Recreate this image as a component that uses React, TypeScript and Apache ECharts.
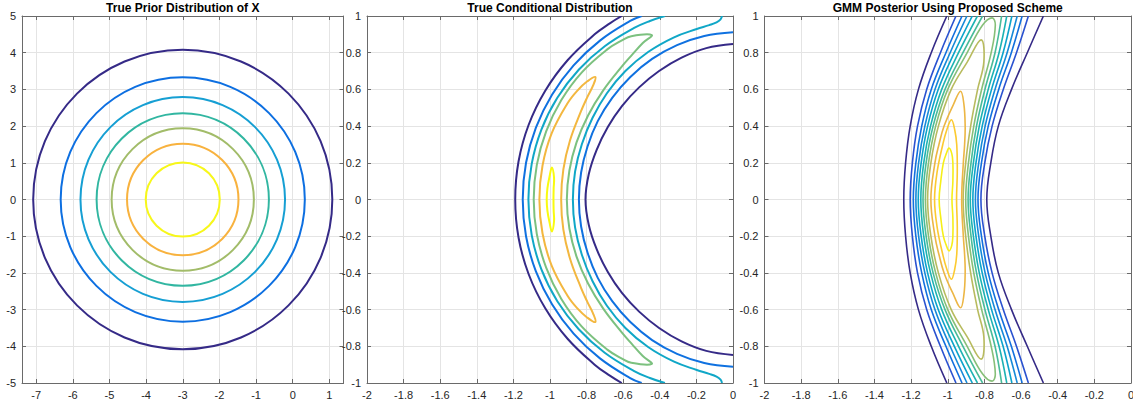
import React, { useEffect, useRef } from 'react';
import * as echarts from 'echarts';

type P = [number, number];
type Curve = { level: number; pts: P[]; closed?: boolean };

// ---------- Panel 1: True Prior Distribution of X ----------
const priorTitle = 'True Prior Distribution of X';
const priorCenter: P = [-3, 0];
const priorRadii = [4.08, 3.33, 2.79, 2.35, 1.94, 1.52, 1.01];
const priorColors = ['#352a87', '#0d6fe1', '#169fd3', '#31b6a1', '#a2bc69', '#f8b23e', '#f7f71a'];
const priorXTicks = [-7, -6, -5, -4, -3, -2, -1, 0, 1];

// ---------- Panel 2: True Conditional Distribution ----------
const condTitle = 'True Conditional Distribution';
const condColors = ['#352a87', '#0f71e0', '#10a7c7', '#7cc17f', '#f3b73f', '#f9fb0e'];
const condNavyOuter: P[] = [[-0.608, 1], [-0.673, 0.96], [-0.756, 0.9], [-0.904, 0.759], [-1.026, 0.593], [-1.117, 0.406], [-1.172, 0.207], [-1.19, 0], [-1.172, -0.207], [-1.117, -0.406], [-1.026, -0.593], [-0.904, -0.759], [-0.756, -0.9], [-0.673, -0.96], [-0.608, -1]];
const condNavyInner: P[] = [[0, 0.847], [-0.146, 0.825], [-0.281, 0.773], [-0.404, 0.7], [-0.513, 0.611], [-0.607, 0.509], [-0.684, 0.395], [-0.745, 0.271], [-0.788, 0.139], [-0.806, 0], [-0.788, -0.139], [-0.745, -0.271], [-0.684, -0.395], [-0.607, -0.509], [-0.513, -0.611], [-0.404, -0.7], [-0.281, -0.773], [-0.146, -0.825], [0, -0.847]];
const condBlueOuter: P[] = [[-0.499, 1], [-0.562, 0.973], [-0.727, 0.866], [-0.871, 0.731], [-0.989, 0.571], [-1.077, 0.392], [-1.131, 0.2], [-1.149, 0], [-1.131, -0.2], [-1.077, -0.392], [-0.989, -0.571], [-0.871, -0.731], [-0.727, -0.866], [-0.562, -0.973], [-0.499, -1]];
const condBlueInner: P[] = [[0, 0.911], [-0.157, 0.891], [-0.306, 0.841], [-0.442, 0.766], [-0.561, 0.668], [-0.66, 0.554], [-0.739, 0.427], [-0.795, 0.289], [-0.83, 0.147], [-0.842, 0], [-0.83, -0.147], [-0.795, -0.289], [-0.739, -0.427], [-0.66, -0.554], [-0.561, -0.668], [-0.442, -0.766], [-0.306, -0.841], [-0.157, -0.891], [0, -0.911]];
const condCyanOuter: P[] = [[-0.372, 1], [-0.454, 0.973], [-0.54, 0.935], [-0.701, 0.835], [-0.843, 0.707], [-0.96, 0.554], [-1.047, 0.381], [-1.1, 0.194], [-1.118, 0], [-1.1, -0.194], [-1.047, -0.381], [-0.96, -0.554], [-0.843, -0.707], [-0.701, -0.835], [-0.54, -0.935], [-0.454, -0.973], [-0.372, -1]];
const condCyanInner: P[] = [[-0.06, 1], [-0.068, 0.982], [-0.09, 0.965], [-0.13, 0.95], [-0.198, 0.929], [-0.322, 0.884], [-0.464, 0.804], [-0.588, 0.7], [-0.689, 0.579], [-0.768, 0.444], [-0.826, 0.301], [-0.863, 0.152], [-0.875, 0], [-0.863, -0.152], [-0.826, -0.301], [-0.768, -0.444], [-0.689, -0.579], [-0.588, -0.7], [-0.464, -0.804], [-0.322, -0.884], [-0.198, -0.929], [-0.13, -0.95], [-0.09, -0.965], [-0.068, -0.982], [-0.06, -1]];
const condGreenLoop: P[] = [[-0.444, 0.896], [-0.556, 0.89], [-0.607, 0.867], [-0.687, 0.818], [-0.826, 0.693], [-0.938, 0.542], [-1.021, 0.371], [-1.072, 0.189], [-1.089, 0], [-1.072, -0.189], [-1.021, -0.371], [-0.938, -0.542], [-0.826, -0.693], [-0.687, -0.818], [-0.607, -0.867], [-0.556, -0.89], [-0.444, -0.896], [-0.493, -0.853], [-0.552, -0.788], [-0.608, -0.724], [-0.709, -0.595], [-0.792, -0.458], [-0.855, -0.311], [-0.894, -0.158], [-0.908, 0], [-0.894, 0.158], [-0.855, 0.311], [-0.792, 0.458], [-0.709, 0.595], [-0.608, 0.724], [-0.552, 0.788], [-0.493, 0.853]];
const condOrangeLoop: P[] = [[-0.752, 0.668], [-0.796, 0.644], [-0.849, 0.595], [-0.905, 0.523], [-0.991, 0.36], [-1.041, 0.184], [-1.058, 0], [-1.041, -0.184], [-0.991, -0.36], [-0.905, -0.523], [-0.849, -0.595], [-0.796, -0.644], [-0.752, -0.668], [-0.765, -0.62], [-0.796, -0.558], [-0.831, -0.48], [-0.89, -0.324], [-0.927, -0.164], [-0.939, 0], [-0.927, 0.164], [-0.89, 0.324], [-0.831, 0.48], [-0.796, 0.558], [-0.765, 0.62]];
const condYellowLoop: P[] = [[-0.99, 0.174], [-1.003, 0.123], [-1.014, 0.062], [-1.018, 0], [-1.014, -0.062], [-1.003, -0.123], [-0.99, -0.174], [-0.978, -0.12], [-0.98, -0.06], [-0.981, 0], [-0.98, 0.06], [-0.978, 0.12]];
const condCurves: Curve[] = [
  { level: 0, pts: condNavyOuter }, { level: 0, pts: condNavyInner },
  { level: 1, pts: condBlueOuter }, { level: 1, pts: condBlueInner },
  { level: 2, pts: condCyanOuter }, { level: 2, pts: condCyanInner },
  { level: 3, pts: condGreenLoop, closed: true },
  { level: 4, pts: condOrangeLoop, closed: true },
  { level: 5, pts: condYellowLoop, closed: true },
];

// ---------- Panel 3: GMM Posterior Using Proposed Scheme ----------
const postTitle = 'GMM Posterior Using Proposed Scheme';
const postColors = ['#352a87', '#2a52d0', '#1270de', '#168ad8', '#0ca3cb', '#1db2b3', '#48bb99', '#86bf78', '#b8bb5e', '#ecb644', '#fcca30', '#f6ef18'];
const postK0Left: P[] = [[-1.005, 1], [-1.09, 0.8], [-1.16, 0.6], [-1.205, 0.4], [-1.23, 0.2], [-1.24, 0], [-1.23, -0.2], [-1.205, -0.4], [-1.16, -0.6], [-1.09, -0.8], [-1.005, -1]];
const postK0Right: P[] = [[-0.478, 1], [-0.566, 0.8], [-0.652, 0.6], [-0.724, 0.4], [-0.765, 0.2], [-0.787, 0], [-0.765, -0.2], [-0.724, -0.4], [-0.652, -0.6], [-0.566, -0.8], [-0.478, -1]];
const postK1Left: P[] = [[-0.955, 1], [-1.04, 0.8], [-1.115, 0.6], [-1.165, 0.4], [-1.193, 0.2], [-1.205, 0], [-1.193, -0.2], [-1.165, -0.4], [-1.115, -0.6], [-1.04, -0.8], [-0.955, -1]];
const postK1Right: P[] = [[-0.56, 1], [-0.625, 0.8], [-0.697, 0.6], [-0.758, 0.4], [-0.798, 0.2], [-0.819, 0], [-0.798, -0.2], [-0.758, -0.4], [-0.697, -0.6], [-0.625, -0.8], [-0.56, -1]];
const postK2Left: P[] = [[-0.922, 1], [-1.01, 0.8], [-1.09, 0.6], [-1.142, 0.4], [-1.174, 0.2], [-1.188, 0], [-1.174, -0.2], [-1.142, -0.4], [-1.09, -0.6], [-1.01, -0.8], [-0.922, -1]];
const postK2Right: P[] = [[-0.594, 1], [-0.653, 0.8], [-0.722, 0.6], [-0.779, 0.4], [-0.816, 0.2], [-0.835, 0], [-0.816, -0.2], [-0.779, -0.4], [-0.722, -0.6], [-0.653, -0.8], [-0.594, -1]];
const postK3Left: P[] = [[-0.895, 1], [-0.987, 0.8], [-1.07, 0.6], [-1.125, 0.4], [-1.159, 0.2], [-1.174, 0], [-1.159, -0.2], [-1.125, -0.4], [-1.07, -0.6], [-0.987, -0.8], [-0.895, -1]];
const postK3Right: P[] = [[-0.621, 1], [-0.676, 0.8], [-0.742, 0.6], [-0.796, 0.4], [-0.831, 0.2], [-0.849, 0], [-0.831, -0.2], [-0.796, -0.4], [-0.742, -0.6], [-0.676, -0.8], [-0.621, -1]];
const postK4Left: P[] = [[-0.866, 1], [-0.964, 0.8], [-1.052, 0.6], [-1.11, 0.4], [-1.145, 0.2], [-1.161, 0], [-1.145, -0.2], [-1.11, -0.4], [-1.052, -0.6], [-0.964, -0.8], [-0.866, -1]];
const postK4Right: P[] = [[-0.65, 1], [-0.698, 0.8], [-0.761, 0.6], [-0.812, 0.4], [-0.846, 0.2], [-0.863, 0], [-0.846, -0.2], [-0.812, -0.4], [-0.761, -0.6], [-0.698, -0.8], [-0.65, -1]];
const postK5Left: P[] = [[-0.838, 1], [-0.941, 0.8], [-1.033, 0.6], [-1.094, 0.4], [-1.131, 0.2], [-1.147, 0], [-1.131, -0.2], [-1.094, -0.4], [-1.033, -0.6], [-0.941, -0.8], [-0.838, -1]];
const postK5Right: P[] = [[-0.678, 1], [-0.72, 0.8], [-0.779, 0.6], [-0.828, 0.4], [-0.86, 0.2], [-0.877, 0], [-0.86, -0.2], [-0.828, -0.4], [-0.779, -0.6], [-0.72, -0.8], [-0.678, -1]];
const postK6Left: P[] = [[-0.81, 1], [-0.917, 0.8], [-1.015, 0.6], [-1.08, 0.4], [-1.118, 0.2], [-1.135, 0], [-1.118, -0.2], [-1.08, -0.4], [-1.015, -0.6], [-0.917, -0.8], [-0.81, -1]];
const postK6Right: P[] = [[-0.706, 1], [-0.742, 0.8], [-0.797, 0.6], [-0.843, 0.4], [-0.873, 0.2], [-0.889, 0], [-0.873, -0.2], [-0.843, -0.4], [-0.797, -0.6], [-0.742, -0.8], [-0.706, -1]];
const postK7Loop: P[] = [[-0.758, 0.99], [-0.8105, 0.95], [-0.894, 0.8], [-1.0, 0.6], [-1.066, 0.4], [-1.105, 0.2], [-1.122, 0], [-1.105, -0.2], [-1.066, -0.4], [-1.0, -0.6], [-0.894, -0.8], [-0.8105, -0.95], [-0.758, -0.99], [-0.7405, -0.95], [-0.763, -0.8], [-0.815, -0.6], [-0.858, -0.4], [-0.887, -0.2], [-0.902, 0], [-0.887, 0.2], [-0.858, 0.4], [-0.815, 0.6], [-0.763, 0.8], [-0.7405, 0.95]];
const postK8Loop: P[] = [[-0.818, 0.87], [-0.893, 0.75], [-0.981, 0.6], [-1.051, 0.4], [-1.092, 0.2], [-1.11, 0], [-1.092, -0.2], [-1.051, -0.4], [-0.981, -0.6], [-0.893, -0.75], [-0.818, -0.87], [-0.803, -0.75], [-0.837, -0.6], [-0.875, -0.4], [-0.902, -0.2], [-0.916, 0], [-0.902, 0.2], [-0.875, 0.4], [-0.837, 0.6], [-0.803, 0.75]];
const postK9Loop: P[] = [[-0.93, 0.59], [-0.968, 0.52], [-1.02, 0.4], [-1.048, 0.3], [-1.07, 0.2], [-1.092, 0], [-1.07, -0.2], [-1.048, -0.3], [-1.02, -0.4], [-0.968, -0.52], [-0.93, -0.59], [-0.912, -0.52], [-0.905, -0.4], [-0.908, -0.3], [-0.915, -0.2], [-0.924, 0], [-0.915, 0.2], [-0.908, 0.3], [-0.905, 0.4], [-0.912, 0.52]];
const postK10Loop: P[] = [[-0.98, 0.435], [-1.005, 0.38], [-1.027, 0.3], [-1.058, 0.15], [-1.072, 0], [-1.058, -0.15], [-1.027, -0.3], [-1.005, -0.38], [-0.98, -0.435], [-0.962, -0.38], [-0.951, -0.3], [-0.948, -0.15], [-0.952, 0], [-0.948, 0.15], [-0.951, 0.3], [-0.962, 0.38]];
const postK11Loop: P[] = [[-0.993, 0.28], [-1.008, 0.25], [-1.024, 0.2], [-1.038, 0.1], [-1.047, 0], [-1.038, -0.1], [-1.024, -0.2], [-1.008, -0.25], [-0.993, -0.28], [-0.978, -0.25], [-0.972, -0.2], [-0.972, -0.1], [-0.977, 0], [-0.972, 0.1], [-0.972, 0.2], [-0.978, 0.25]];
const postCurves: Curve[] = [
  { level: 0, pts: postK0Left }, { level: 0, pts: postK0Right },
  { level: 1, pts: postK1Left }, { level: 1, pts: postK1Right },
  { level: 2, pts: postK2Left }, { level: 2, pts: postK2Right },
  { level: 3, pts: postK3Left }, { level: 3, pts: postK3Right },
  { level: 4, pts: postK4Left }, { level: 4, pts: postK4Right },
  { level: 5, pts: postK5Left }, { level: 5, pts: postK5Right },
  { level: 6, pts: postK6Left }, { level: 6, pts: postK6Right },
  { level: 7, pts: postK7Loop, closed: true },
  { level: 8, pts: postK8Loop, closed: true },
  { level: 9, pts: postK9Loop, closed: true },
  { level: 10, pts: postK10Loop, closed: true },
  { level: 11, pts: postK11Loop, closed: true },
];

// ---------- styling ----------
const FONT = '"Liberation Sans", Arial, Helvetica, sans-serif';
const AX = '#6a6a6a';
const GRIDC = '#e4e4e4';
const LABEL = '#262626';

const grids = [
  { left: 22, top: 16, width: 321.5, height: 367 },
  { left: 367, top: 16, width: 366, height: 367 },
  { left: 764.5, top: 16, width: 366.5, height: 367 },
];

function makeAxis(kind: 'x' | 'y', gridIndex: number, primary: boolean, min: number, max: number, interval?: number, custom?: number[]) {
  const position = kind === 'x' ? (primary ? 'bottom' : 'top') : (primary ? 'left' : 'right');
  const ax: any = {
    type: 'value',
    gridIndex,
    position,
    min,
    max,
    axisLine: { show: true, onZero: false, lineStyle: { color: AX, width: 1 } },
    axisTick: { show: true, inside: true, length: 4, lineStyle: { color: AX, width: 1 } },
    axisLabel: {
      show: primary,
      color: LABEL,
      fontSize: 11,
      fontFamily: FONT,
      margin: 6,
      showMinLabel: true,
      showMaxLabel: true,
      hideOverlap: false,
    },
    splitLine: { show: primary, lineStyle: { color: GRIDC, width: 1 } },
    minorTick: { show: false },
  };
  if (interval !== undefined) ax.interval = interval;
  if (custom) {
    ax.axisTick.customValues = custom;
    ax.axisLabel.customValues = custom;
  }
  return ax;
}

const xAxes = [
  makeAxis('x', 0, true, -7.385, 1.385, undefined, priorXTicks),
  makeAxis('x', 0, false, -7.385, 1.385, undefined, priorXTicks),
  makeAxis('x', 1, true, -2, 0, 0.2),
  makeAxis('x', 1, false, -2, 0, 0.2),
  makeAxis('x', 2, true, -2, 0, 0.2),
  makeAxis('x', 2, false, -2, 0, 0.2),
];
const yAxes = [
  makeAxis('y', 0, true, -5, 5, 1),
  makeAxis('y', 0, false, -5, 5, 1),
  makeAxis('y', 1, true, -1, 1, 0.2),
  makeAxis('y', 1, false, -1, 1, 0.2),
  makeAxis('y', 2, true, -1, 1, 0.2),
  makeAxis('y', 2, false, -1, 1, 0.2),
];

// Contour curves drawn through the axes' scales (api.coord), smoothed by zrender.
function curveSeries(curves: Curve[], colors: string[], panel: number, width: number) {
  return {
    type: 'custom',
    xAxisIndex: panel * 2,
    yAxisIndex: panel * 2,
    clip: true,
    silent: true,
    animation: false,
    data: curves.map((c, i) => [c.pts[0][0], c.pts[0][1], i]),
    renderItem: (params: any, api: any) => {
      const c = curves[params.dataIndex];
      const points = c.pts.map((p) => api.coord(p));
      return {
        type: c.closed ? 'polygon' : 'polyline',
        shape: { points, smooth: 0.4 },
        style: { fill: 'none', stroke: colors[c.level], lineWidth: width, lineJoin: 'round' },
      };
    },
  };
}

const circleSeries = {
  type: 'custom',
  xAxisIndex: 0,
  yAxisIndex: 0,
  clip: true,
  silent: true,
  animation: false,
  data: priorRadii.map((r, i) => [priorCenter[0], priorCenter[1], r, i]),
  renderItem: (_params: any, api: any) => {
    const c = api.coord([api.value(0), api.value(1)]);
    const s = api.size([api.value(2), api.value(2)]);
    return {
      type: 'ellipse',
      shape: { cx: c[0], cy: c[1], rx: s[0], ry: s[1] },
      style: { fill: 'none', stroke: priorColors[api.value(3)], lineWidth: 2 },
    };
  },
};

const titles = [
  { text: priorTitle, x: 182.75 },
  { text: condTitle, x: 550 },
  { text: postTitle, x: 947.75 },
];

const option: any = {
  animation: false,
  backgroundColor: '#ffffff',
  grid: grids.map((g) => ({ ...g, containLabel: false, outerBoundsMode: 'none' })),
  xAxis: xAxes,
  yAxis: yAxes,
  graphic: titles.map((t) => ({
    type: 'text',
    x: t.x,
    y: 8,
    silent: true,
    style: {
      text: t.text,
      font: `bold 12px ${FONT}`,
      fill: '#000000',
      align: 'center',
      verticalAlign: 'middle',
      textAlign: 'center',
      textVerticalAlign: 'middle',
    },
  })),
  series: [
    circleSeries,
    curveSeries(condCurves, condColors, 1, 2),
    curveSeries(postCurves, postColors, 2, 1.6),
  ],
};

export default function App() {
  const ref = useRef<HTMLDivElement>(null);
  useEffect(() => {
    if (!ref.current) return;
    const chart = echarts.init(ref.current, undefined, { renderer: 'svg' });
    chart.setOption(option);
    return () => chart.dispose();
  }, []);
  return (
    <div
      ref={ref}
      style={{ position: 'fixed', left: 0, top: 0, width: 1133, height: 406, background: '#ffffff' }}
    />
  );
}
